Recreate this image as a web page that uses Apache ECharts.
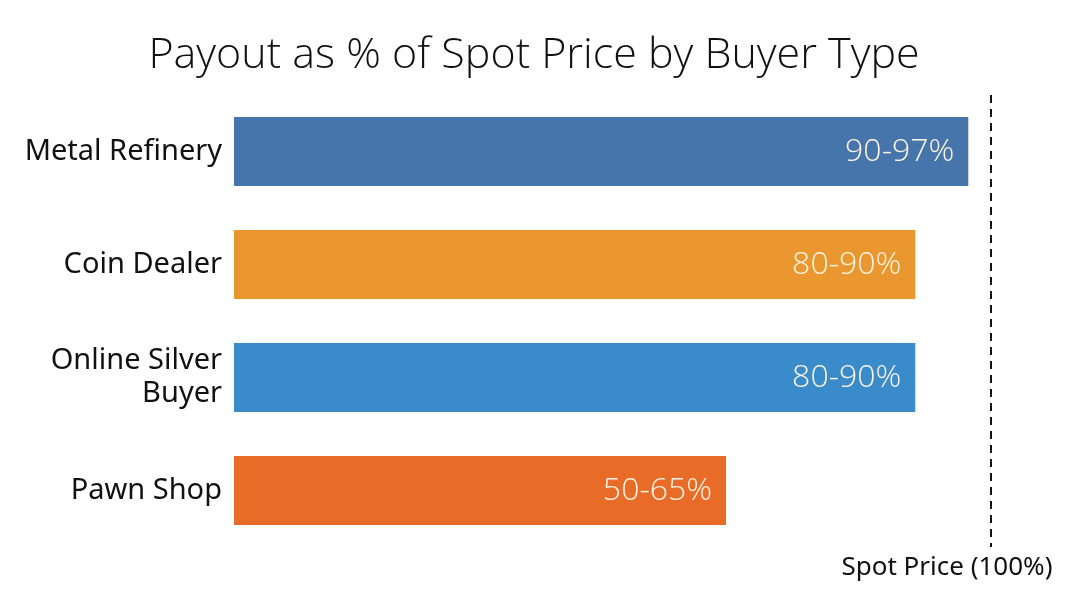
<!DOCTYPE html>
<html>
<head>
<meta charset="utf-8">
<script src="https://cdn.jsdelivr.net/npm/echarts@6/dist/echarts.min.js"></script>
<style>
  html, body { margin: 0; padding: 0; background: #fff; }
  #chart { width: 1068px; height: 601px; }
</style>
</head>
<body>
<div id="chart"></div>
<script>
// buyer types, top to bottom
var buyers = ['Metal Refinery', 'Coin Dealer', 'Online Silver\nBuyer', 'Pawn Shop'];
// upper end of payout range (% of spot)
var payoutHigh = [97, 90, 90, 65];
var rangeLabels = ['90-97%', '80-90%', '80-90%', '50-65%'];
var barColors = ['#4575aa', '#eb972f', '#3a8bca', '#e96b28'];
var spotLevel = 100;

var chart = echarts.init(document.getElementById('chart'));

var option = {
  animation: false,
  title: {
    text: 'Payout as % of Spot Price by Buyer Type',
    left: 'center',
    top: 29,
    textStyle: {
      fontFamily: 'Open Sans',
      fontSize: 43,
      fontWeight: 300,
      color: '#111'
    }
  },
  grid: { left: 234, right: 77, top: 95, bottom: 54 },
  xAxis: {
    type: 'value',
    min: 0,
    max: 100,
    show: false
  },
  yAxis: {
    type: 'category',
    inverse: true,
    data: buyers,
    axisLine: { show: false },
    axisTick: { show: false },
    axisLabel: {
      margin: 12,
      fontFamily: 'Noto Sans',
      fontSize: 29,
      lineHeight: 33,
      color: '#111',
      align: 'right'
    }
  },
  series: [{
    type: 'bar',
    barWidth: '61%',
    data: payoutHigh.map(function (v, i) {
      return { value: v, itemStyle: { color: barColors[i] } };
    }),
    label: {
      show: true,
      position: 'insideRight',
      distance: 14,
      fontFamily: 'Open Sans',
      fontSize: 32,
      fontWeight: 300,
      color: '#fdf3e3',
      formatter: function (p) { return rangeLabels[p.dataIndex]; }
    },
    markLine: {
      silent: true,
      symbol: 'none',
      lineStyle: { color: '#111', type: [8, 6], width: 2 },
      label: {
        show: true,
        position: 'end',
        distance: 8,
        offset: [-44, 0],
        fontFamily: 'Noto Sans',
        fontSize: 26,
        color: '#111',
        formatter: 'Spot Price (100%)'
      },
      data: [{ xAxis: spotLevel }]
    }
  }]
};

chart.setOption(option);
</script>
</body>
</html>
